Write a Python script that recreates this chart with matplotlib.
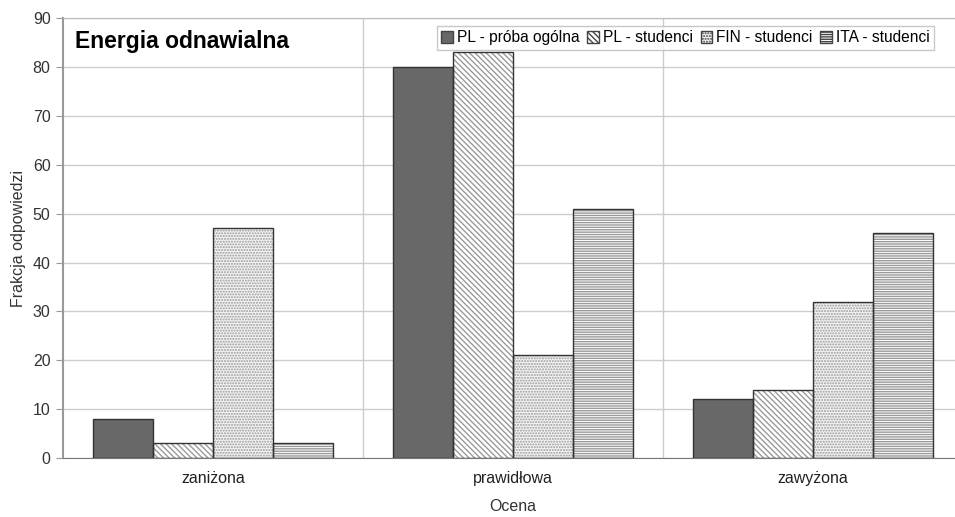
import numpy as np
import matplotlib.pyplot as plt
from matplotlib.patches import Patch

plt.rcParams['font.family'] = ['Liberation Sans', 'DejaVu Sans']

# data
categories = ["zaniżona", "prawidłowa", "zawyżona"]
series     = ["PL - próba ogólna", "PL - studenci", "FIN - studenci", "ITA - studenci"]
v_pl_all   = [8, 80, 12]
v_pl_stud  = [3, 83, 14]
v_fin_stud = [47, 21, 32]
v_ita_stud = [3, 51, 46]

# styles
faces   = ["#686868", "white", "#f4f4f4", "white"]
hatches = [None, "\\\\\\\\\\\\", "......", "-------"]

fig = plt.figure(figsize=(9.55, 5.17), dpi=100)
# right edge of the plot area lies just outside the picture (cropped)
ax = fig.add_axes([0.066, 0.114, 0.942, 0.851])

x = np.arange(len(categories))
width = 0.2
values = [v_pl_all, v_pl_stud, v_fin_stud, v_ita_stud]

for n, vals in enumerate(values):
    pos = x - 1.5 * width + n * width
    # hatch layer
    ax.bar(pos, vals, width, color=faces[n], hatch=hatches[n],
           edgecolor="#9a9a9a", linewidth=0, zorder=2)
    # outline layer
    ax.bar(pos, vals, width, fill=False, edgecolor="#333333", linewidth=1.0, zorder=3)

ax.set_xlim(-0.5, 2.5)
ax.set_ylim(0, 90)
ax.set_yticks(range(0, 91, 10))
ax.set_xticks(x)
ax.set_xticklabels(categories, fontsize=11.5, color="#222222")
ax.tick_params(axis="x", length=0, pad=9)
ax.tick_params(axis="y", labelsize=11.5, colors="#333333", length=5, color="#999999", pad=4)

ax.set_xticks([0.5, 1.5], minor=True)
ax.tick_params(axis="x", which="minor", length=0)
ax.grid(axis="y", color="#cccccc", linewidth=1.0, zorder=0)
ax.grid(axis="x", which="minor", color="#cccccc", linewidth=1.0, zorder=0)
ax.set_axisbelow(True)

for side in ["top", "right"]:
    ax.spines[side].set_color("#bbbbbb")
ax.spines["left"].set_color("#999999")
ax.spines["left"].set_linewidth(1.5)
ax.spines["bottom"].set_color("#777777")

ax.set_ylabel("Frakcja odpowiedzi", fontsize=11.5, color="#333333", labelpad=5)
ax.set_xlabel("Ocena", fontsize=11.5, color="#333333", labelpad=10)

ax.text(0.013, 0.947, "Energia odnawialna", transform=ax.transAxes,
        fontsize=16.5, fontweight="bold", va="center", ha="left")

handles = [Patch(facecolor=faces[n], hatch=hatches[n], edgecolor="#444444")
           for n in range(len(series))]
ax.legend(handles, series, ncol=4, loc="upper right", bbox_to_anchor=(0.972, 0.99),
          fontsize=11.2, frameon=True, fancybox=False, edgecolor="#bbbbbb",
          handlelength=0.75, handleheight=0.75, handletextpad=0.25, columnspacing=0.5,
          borderpad=0.3, borderaxespad=0.2)

fig.savefig("out.png", dpi=100)
